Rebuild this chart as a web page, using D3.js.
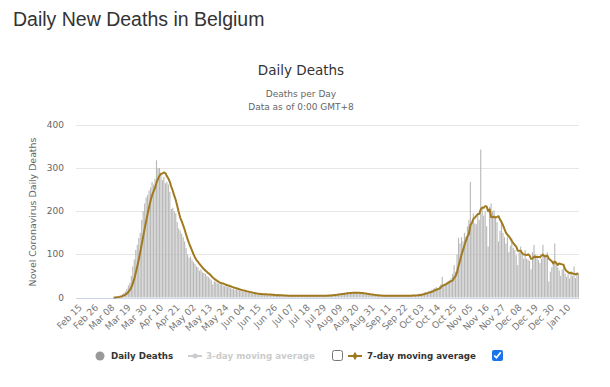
<!DOCTYPE html>
<html>
<head>
<meta charset="utf-8">
<script src="https://cdn.jsdelivr.net/npm/d3@7.9.0/dist/d3.min.js"></script>
<style>
  body { margin: 0; background: #fff; }
  #wrap { position: relative; width: 610px; height: 387px; overflow: hidden; }
  .cb { position: absolute; margin: 0; width: 11px; height: 11px; accent-color: #1a73e8; }
</style>
</head>
<body>
<div id="wrap">
  <svg id="chart" width="610" height="387"></svg>
  <input type="checkbox" class="cb" style="left:332px;top:350px">
  <input type="checkbox" class="cb" checked style="left:492px;top:350px">
</div>
<script>
// daily deaths, one value per day from Feb 15 2020
const startDate = new Date(2020, 1, 15);
const deaths = [
  0,0,0,0,0,0,0,0,0,0, 0,0,0,0,0,0,0,0,0,0, 0,0,0,0,0,0,
  1,2,3,4,5,8,11,14,20,28,34,
  50,72,88,110,122,138,150,180,200,218,232,238,248,255,268,
  262,275,318,300,300,285,272,280,265,268,
  262,245,205,208,200,195,175,160,155,148,
  140,130,115,100,92,95,88,82,78,72,
  70,62,65,58,57,55,50,48,44,40,30,
  38,36,33,32,30,31,28,26,27,24,
  25,22,20,21,18,19,17,16,15,14,
  13,14,12,11,10,10,9,8,9,7,
  8,7,9,6,7,8,5,6,7,5,
  6,5,4,6,5,4,5,3,4,5,
  4,3,5,4,4,3,5,4,3,4,4,
  5,3,4,4,5,3,4,5,4,3,
  4,5,3,4,5,6,4,5,6,7,
  6,8,7,9,8,10,9,11,10,12,
  11,12,10,13,11,10,12,9,10,8,
  9,7,8,6,7,5,6,5,4,5,
  4,5,3,4,4,5,3,4,5,4,4,
  4,3,5,4,4,5,4,3,5,4,
  5,4,6,5,5,6,7,9,8,10,
  11,13,12,16,14,18,20,22,24,21,
  26,30,48,28,33,35,38,40,45,55,
  75,60,100,138,125,140,130,150,141,165,
  180,268,175,195,172,170,195,180,343,205,
  190,200,165,118,210,218,200,202,185,175,
  130,155,179,150,140,125,140,105,120,137,
  115,110,98,75,105,118,100,90,110,90,88,
  85,65,105,122,100,95,87,80,90,122,
  95,100,105,37,60,70,85,125,80,70,
  63,50,65,75,56,48,55,44,60,50,
  72,45,58,55
];
const tickLabels = [
  "Feb 15","Feb 26","Mar 08","Mar 19","Mar 30","Apr 10","Apr 21","May 02",
  "May 13","May 24","Jun 04","Jun 15","Jun 26","Jul 07","Jul 18","Jul 29",
  "Aug 09","Aug 20","Aug 31","Sep 11","Sep 22","Oct 03","Oct 14","Oct 25",
  "Nov 05","Nov 16","Nov 27","Dec 08","Dec 19","Dec 30","Jan 10"
];
const yTicks = [0, 100, 200, 300, 400];
const legendItems = ["Daily Deaths", "3-day moving average", "7-day moving average"];

const fmt = d3.timeFormat("%b %d");
const data = deaths.map((v, i) => ({ date: d3.timeDay.offset(startDate, i), value: v }));

// trailing 7-day average, starting with the first deaths
const firstDeath = deaths.findIndex(v => v > 0) - 1;
const avg7 = data.slice(firstDeath).map((d, j) => {
  const i = j + firstDeath;
  return { date: d.date, value: d3.mean(deaths.slice(Math.max(0, i - 6), i + 1)) };
});

const svg = d3.select("#chart");
const font = "DejaVu Sans, sans-serif";
const lineColor = "#a07a20";

const x = d3.scaleBand().domain(data.map(d => d.date)).range([76, 579]).paddingInner(0.25);
const y = d3.scaleLinear().domain([0, 400]).range([297.5, 125]);
const cx = d => x(d) + x.bandwidth() / 2;

// page heading
svg.append("text").attr("x", 13).attr("y", 26)
  .attr("font-family", "Liberation Sans, Arial, sans-serif").attr("font-size", 19.5)
  .attr("fill", "#333").text("Daily New Deaths in Belgium");

// chart titles
svg.append("text").attr("x", 301).attr("y", 75).attr("text-anchor", "middle")
  .attr("font-family", font).attr("font-size", 13.5).attr("fill", "#333").text("Daily Deaths");
svg.append("text").attr("x", 301).attr("y", 97).attr("text-anchor", "middle")
  .attr("font-family", font).attr("font-size", 9).attr("fill", "#666").text("Deaths per Day");
svg.append("text").attr("x", 301).attr("y", 110).attr("text-anchor", "middle")
  .attr("font-family", font).attr("font-size", 9).attr("fill", "#666").text("Data as of 0:00 GMT+8");

// gridlines + y labels
const yAxis = svg.append("g");
yAxis.selectAll("line").data(yTicks).join("line")
  .attr("x1", 76).attr("x2", 579)
  .attr("y1", d => Math.round(y(d)) + 0.5).attr("y2", d => Math.round(y(d)) + 0.5)
  .attr("stroke", d => d === 0 ? "#ccd6eb" : "#e6e6e6");
yAxis.selectAll("text").data(yTicks).join("text")
  .attr("x", 64).attr("y", d => y(d) + 3)
  .attr("text-anchor", "end").attr("font-family", font).attr("font-size", 9)
  .attr("fill", "#666").text(d => d);

svg.append("text")
  .attr("transform", "translate(36,212) rotate(-90)")
  .attr("text-anchor", "middle").attr("font-family", font).attr("font-size", 9.4)
  .attr("fill", "#666").text("Novel Coronavirus Daily Deaths");

// bars
svg.append("g").selectAll("rect").data(data).join("rect")
  .attr("x", d => x(d.date)).attr("width", x.bandwidth())
  .attr("y", d => y(d.value)).attr("height", d => y(0) - y(d.value))
  .attr("fill", "#b8b8b8");

// 7-day moving average
svg.append("path").datum(avg7)
  .attr("fill", "none").attr("stroke", lineColor).attr("stroke-width", 2)
  .attr("stroke-linejoin", "round")
  .attr("d", d3.line().x(d => cx(d.date)).y(d => y(d.value)));

// x tick labels
const ticks = data.filter(d => tickLabels.includes(fmt(d.date)));
svg.append("g").selectAll("text").data(ticks).join("text")
  .attr("transform", d => `translate(${cx(d.date) + 6},${308}) rotate(-45)`)
  .attr("text-anchor", "end").attr("font-family", font).attr("font-size", 9.2)
  .attr("fill", "#777").text(d => fmt(d.date));

// legend
const lg = svg.append("g").attr("font-family", font).attr("font-size", 8.7).attr("font-weight", "bold");
lg.append("circle").attr("cx", 100).attr("cy", 356).attr("r", 4.5).attr("fill", "#999");
lg.append("text").attr("x", 111).attr("y", 359).attr("fill", "#333").text(legendItems[0]);

lg.append("line").attr("x1", 188).attr("x2", 202).attr("y1", 356).attr("y2", 356)
  .attr("stroke", "#ccc").attr("stroke-width", 2);
lg.append("circle").attr("cx", 195).attr("cy", 356).attr("r", 2.5).attr("fill", "#ccc");
lg.append("text").attr("x", 206).attr("y", 359).attr("fill", "#ccc").text(legendItems[1]);

lg.append("line").attr("x1", 348).attr("x2", 362).attr("y1", 356).attr("y2", 356)
  .attr("stroke", lineColor).attr("stroke-width", 2);
lg.append("path").attr("d", d3.symbol(d3.symbolDiamond, 22)()).attr("transform", "translate(355,356)")
  .attr("fill", lineColor);
lg.append("text").attr("x", 367).attr("y", 359).attr("fill", "#333").text(legendItems[2]);
</script>
</body>
</html>
